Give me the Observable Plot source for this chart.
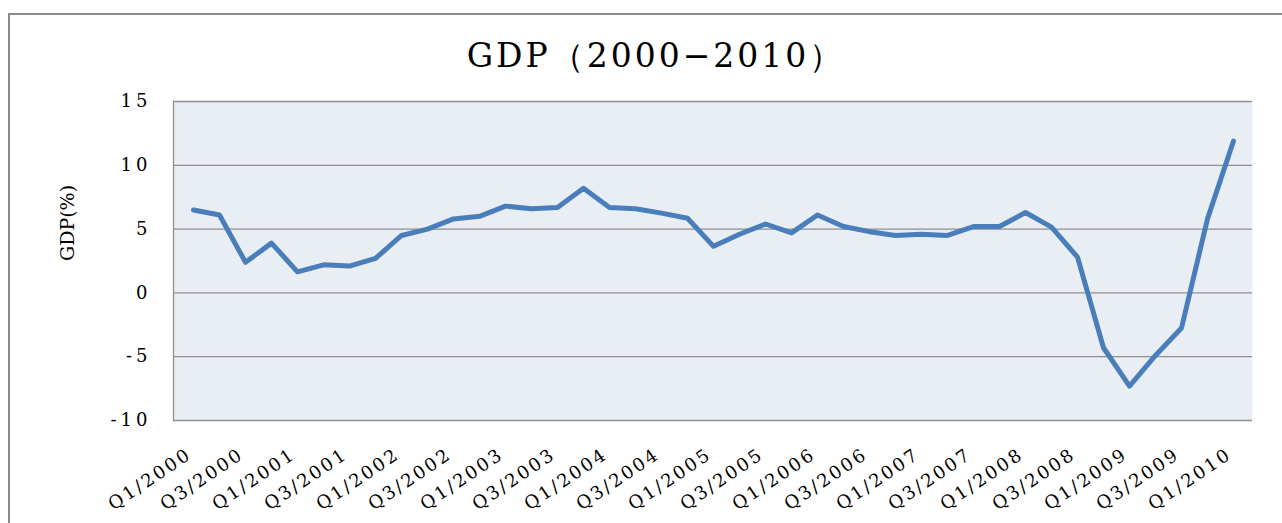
<!DOCTYPE html>
<html>
<head>
<meta charset="utf-8">
<script src="https://cdn.jsdelivr.net/npm/d3@7"></script>
<script src="https://cdn.jsdelivr.net/npm/@observablehq/plot@0.6"></script>
<style>
  html, body { margin: 0; padding: 0; background: #fff; }
  #wrap { position: relative; width: 1282px; height: 523px; overflow: hidden; background: #fff; }
  #border { position: absolute; left: 8px; top: 13px; width: 1400px; height: 700px; border: 2px solid #8a8a8a; box-sizing: border-box; }
  #title { position: absolute; left: 6px; width: 1300px; top: 39px; text-align: center; font-family: "DejaVu Serif", serif; font-size: 33px; line-height: 1; color: #000; letter-spacing: 3px; }
  #chart { position: absolute; left: 0; top: 0; }
  #chart svg text { font-family: "DejaVu Serif", serif; fill: #000; }
  g[aria-label="y-axis tick label"] text { letter-spacing: 4px; }
  g[aria-label="x-axis tick label"] text { letter-spacing: 2.5px; }
</style>
</head>
<body>
<div id="wrap">
  <div id="border"></div>
  <div id="chart"></div>
  <div id="title">GDP（2000−2010）</div>
</div>
<script>
const quarters = [
  "Q1/2000","Q2/2000","Q3/2000","Q4/2000",
  "Q1/2001","Q2/2001","Q3/2001","Q4/2001",
  "Q1/2002","Q2/2002","Q3/2002","Q4/2002",
  "Q1/2003","Q2/2003","Q3/2003","Q4/2003",
  "Q1/2004","Q2/2004","Q3/2004","Q4/2004",
  "Q1/2005","Q2/2005","Q3/2005","Q4/2005",
  "Q1/2006","Q2/2006","Q3/2006","Q4/2006",
  "Q1/2007","Q2/2007","Q3/2007","Q4/2007",
  "Q1/2008","Q2/2008","Q3/2008","Q4/2008",
  "Q1/2009","Q2/2009","Q3/2009","Q4/2009",
  "Q1/2010"
];
const gdp = [
  6.5, 6.1, 2.4, 3.9,
  1.65, 2.2, 2.1, 2.7,
  4.5, 5.0, 5.8, 6.0,
  6.8, 6.6, 6.7, 8.2,
  6.7, 6.6, 6.25, 5.85,
  3.65, 4.6, 5.4, 4.7,
  6.1, 5.2, 4.8, 4.5,
  4.6, 4.5, 5.2, 5.2,
  6.3, 5.15, 2.8, -4.3,
  -7.3, -4.9, -2.75, 5.8,
  11.9
];
const yTicks = [-10, -5, 0, 5, 10, 15];
const xTickLabels = quarters.filter((d, i) => i % 2 === 0);
const yLabel = "GDP(%)";

const data = quarters.map((q, i) => ({q, v: gdp[i]}));

const chart = Plot.plot({
  width: 1282,
  height: 523,
  marginLeft: 173,
  marginRight: 30,
  marginTop: 101,
  marginBottom: 103,
  style: {background: "transparent", fontFamily: "'DejaVu Serif', serif", color: "#000"},
  x: {type: "point", domain: quarters, padding: 0.5},
  y: {domain: [-10, 15]},
  marks: [
    Plot.frame({fill: "#e9edf4", stroke: "none"}),
    Plot.ruleY(yTicks, {stroke: "#8e8e8e", strokeWidth: 1.3}),
    Plot.frame({anchor: "left", stroke: "#8e8e8e", strokeWidth: 1.3}),
    Plot.line(data, {x: "q", y: "v", stroke: "#4a7ebb", strokeWidth: 5, strokeLinejoin: "round", strokeLinecap: "round"}),
    Plot.axisY({ticks: yTicks, tickSize: 0, tickPadding: 22, fontSize: 18, tickFormat: d => String(d), label: null}),
    Plot.axisX({ticks: xTickLabels, tickSize: 0, tickPadding: 32, dx: -4, tickRotate: -34, fontSize: 18, label: null}),
    Plot.text([yLabel], {frameAnchor: "left", dx: -106, rotate: -90, fontSize: 19, fill: "#000"})
  ]
});
document.getElementById("chart").appendChild(chart);
</script>
</body>
</html>
